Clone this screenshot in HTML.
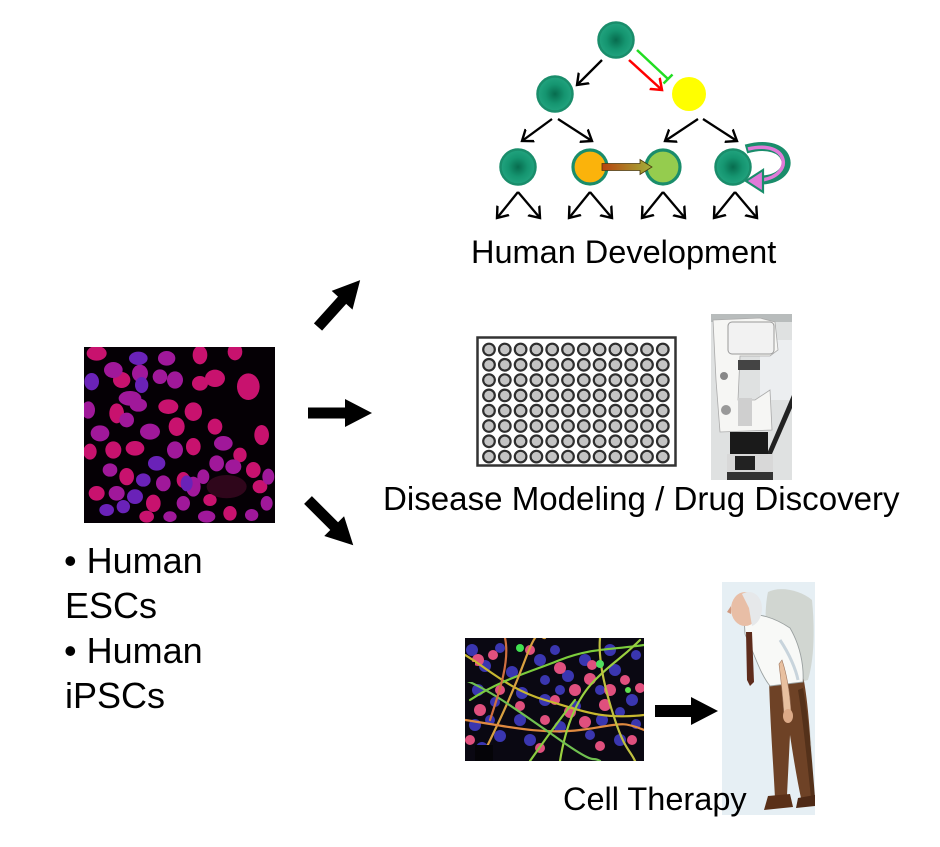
<!DOCTYPE html>
<html><head><meta charset="utf-8"><style>
html,body{margin:0;padding:0;background:#fff;}
svg{display:block;}
text{font-family:"Liberation Sans",Arial,sans-serif;fill:#000;}
</style></head><body>
<svg width="940" height="847" viewBox="0 0 940 847" xmlns="http://www.w3.org/2000/svg">
<defs>
<radialGradient id="teal" cx="50%" cy="50%" r="50%">
<stop offset="0" stop-color="#076c4e"/><stop offset="0.55" stop-color="#159570"/><stop offset="1" stop-color="#22a47f"/>
</radialGradient>
<linearGradient id="og" x1="0" x2="1" y1="0" y2="0">
<stop offset="0" stop-color="#b8440e"/><stop offset="1" stop-color="#a3b03a"/>
</linearGradient>
<marker id="ah" markerUnits="userSpaceOnUse" markerWidth="20" markerHeight="20" refX="10" refY="10" orient="auto" viewBox="0 0 20 20">
<path d="M0,2.5 L10,10 L0,17.5" fill="none" stroke="#000" stroke-width="2.4"/>
</marker>
<marker id="ahr" markerUnits="userSpaceOnUse" markerWidth="20" markerHeight="20" refX="10" refY="10" orient="auto" viewBox="0 0 20 20">
<path d="M0,2.5 L10,10 L0,17.5" fill="none" stroke="#ff0000" stroke-width="2.5"/>
</marker>
<clipPath id="c1"><rect x="84" y="347" width="191" height="176"/></clipPath>
<clipPath id="c2"><rect x="465" y="638" width="179" height="123"/></clipPath>
<clipPath id="c3"><rect x="711" y="314" width="81" height="166"/></clipPath>
<clipPath id="c4"><rect x="722" y="582" width="93" height="233"/></clipPath>
</defs>

<!-- ===== Tree ===== -->
<g fill="none" stroke="#000" stroke-width="2.3" marker-end="url(#ah)">
<line x1="602" y1="60" x2="577" y2="85"/>
<line x1="552" y1="119" x2="522" y2="141"/>
<line x1="558" y1="119" x2="592" y2="141"/>
<line x1="698" y1="119" x2="665" y2="141"/>
<line x1="703" y1="119" x2="737" y2="141"/>
<line x1="518" y1="192" x2="497" y2="218"/><line x1="518" y1="192" x2="540" y2="218"/>
<line x1="590" y1="192" x2="569" y2="218"/><line x1="590" y1="192" x2="612" y2="218"/>
<line x1="663" y1="192" x2="642" y2="218"/><line x1="663" y1="192" x2="685" y2="218"/>
<line x1="735" y1="192" x2="714" y2="218"/><line x1="735" y1="192" x2="757" y2="218"/>
</g>
<line x1="629" y1="60" x2="662" y2="90" stroke="#ff0000" stroke-width="2.5" marker-end="url(#ahr)"/>
<line x1="637" y1="50" x2="668" y2="79" stroke="#22dd22" stroke-width="2.5"/>
<line x1="663.5" y1="83.5" x2="672.5" y2="74.5" stroke="#22dd22" stroke-width="2.5"/>

<g stroke="#1a8d6b" stroke-width="2.5">
<circle cx="616" cy="40" r="17.5" fill="url(#teal)"/>
<circle cx="555" cy="94" r="17.5" fill="url(#teal)"/>
<circle cx="518" cy="167" r="17.5" fill="url(#teal)"/>
<circle cx="733" cy="167" r="17.5" fill="url(#teal)"/>
<circle cx="590" cy="167" r="17" fill="#fbb30b" stroke-width="3.2"/>
<circle cx="663" cy="167" r="17" fill="#95cc4e" stroke-width="3.2"/>
</g>
<circle cx="689" cy="94" r="17" fill="#ffff00"/>

<!-- orange to green arrow -->
<path d="M602,163.5 L640,163.5 L640,159.5 L652,167 L640,174.5 L640,170.5 L602,170.5 Z" fill="url(#og)" stroke="#4a3a10" stroke-width="0.8"/>

<!-- circular arrow -->
<path d="M746,149 C792,136 800,178 762,180" fill="none" stroke="#1a8d6b" stroke-width="9"/>
<path d="M748,149 C789,139 795,175 762,180" fill="none" stroke="#e07ad8" stroke-width="3.5"/>
<path d="M746,181 L763,170 L763,192 Z" fill="#e07ad8" stroke="#1a8d6b" stroke-width="2.2"/>

<text x="471" y="263" font-size="32.5">Human Development</text>

<!-- ===== Left cell image ===== -->
<rect x="84" y="347" width="191" height="176" fill="#050005"/>
<g clip-path="url(#c1)">
<g transform="translate(60,270) scale(0.3333)">
<g fill="#c8126e">
<ellipse cx="110" cy="250" rx="30" ry="22"/><ellipse cx="420" cy="255" rx="22" ry="28"/><ellipse cx="525" cy="245" rx="22" ry="26"/>
<ellipse cx="465" cy="325" rx="30" ry="26"/><ellipse cx="420" cy="340" rx="24" ry="22"/><ellipse cx="565" cy="350" rx="34" ry="40"/>
<ellipse cx="185" cy="330" rx="26" ry="24"/><ellipse cx="400" cy="425" rx="26" ry="28"/><ellipse cx="170" cy="430" rx="22" ry="30"/>
<ellipse cx="325" cy="410" rx="30" ry="22"/><ellipse cx="350" cy="470" rx="24" ry="28"/><ellipse cx="465" cy="470" rx="22" ry="24"/>
<ellipse cx="605" cy="495" rx="22" ry="30"/><ellipse cx="400" cy="530" rx="22" ry="26"/><ellipse cx="540" cy="555" rx="20" ry="22"/>
<ellipse cx="160" cy="540" rx="24" ry="26"/><ellipse cx="225" cy="535" rx="28" ry="22"/><ellipse cx="580" cy="600" rx="22" ry="24"/>
<ellipse cx="200" cy="620" rx="22" ry="26"/><ellipse cx="370" cy="630" rx="20" ry="24"/><ellipse cx="110" cy="670" rx="24" ry="22"/>
<ellipse cx="280" cy="700" rx="22" ry="26"/><ellipse cx="600" cy="650" rx="22" ry="20"/><ellipse cx="260" cy="740" rx="22" ry="18"/>
<ellipse cx="510" cy="730" rx="20" ry="22"/><ellipse cx="90" cy="545" rx="20" ry="24"/><ellipse cx="450" cy="690" rx="20" ry="18"/>
</g>
<g fill="#a0189a">
<ellipse cx="320" cy="265" rx="26" ry="22"/><ellipse cx="160" cy="300" rx="28" ry="24"/><ellipse cx="240" cy="310" rx="24" ry="26"/>
<ellipse cx="300" cy="320" rx="22" ry="22"/><ellipse cx="345" cy="330" rx="24" ry="26"/><ellipse cx="210" cy="385" rx="34" ry="22"/>
<ellipse cx="235" cy="405" rx="26" ry="20"/><ellipse cx="85" cy="420" rx="20" ry="26"/><ellipse cx="120" cy="490" rx="28" ry="24"/>
<ellipse cx="200" cy="450" rx="22" ry="22"/><ellipse cx="270" cy="485" rx="30" ry="24"/><ellipse cx="490" cy="520" rx="28" ry="22"/>
<ellipse cx="345" cy="540" rx="24" ry="26"/><ellipse cx="470" cy="580" rx="22" ry="24"/><ellipse cx="520" cy="590" rx="24" ry="22"/>
<ellipse cx="625" cy="620" rx="18" ry="24"/><ellipse cx="150" cy="600" rx="22" ry="20"/><ellipse cx="310" cy="640" rx="22" ry="24"/>
<ellipse cx="400" cy="650" rx="22" ry="30"/><ellipse cx="430" cy="620" rx="18" ry="22"/><ellipse cx="170" cy="670" rx="24" ry="22"/>
<ellipse cx="370" cy="700" rx="20" ry="22"/><ellipse cx="620" cy="700" rx="18" ry="22"/><ellipse cx="440" cy="740" rx="26" ry="18"/>
<ellipse cx="575" cy="735" rx="20" ry="18"/><ellipse cx="330" cy="740" rx="20" ry="16"/>
</g>
<g fill="#6a22b8">
<ellipse cx="235" cy="265" rx="28" ry="20"/><ellipse cx="95" cy="335" rx="22" ry="26"/><ellipse cx="245" cy="345" rx="20" ry="24"/>
<ellipse cx="290" cy="580" rx="26" ry="22"/><ellipse cx="250" cy="630" rx="22" ry="20"/><ellipse cx="225" cy="680" rx="24" ry="22"/>
<ellipse cx="140" cy="720" rx="22" ry="18"/><ellipse cx="190" cy="710" rx="20" ry="20"/><ellipse cx="380" cy="640" rx="18" ry="24"/>
</g>
<ellipse cx="500" cy="650" rx="60" ry="35" fill="#3a0820" opacity="0.8"/>
</g>
</g>

<!-- big arrows -->
<g fill="#000">
<path transform="translate(318,327) rotate(-48)" d="M0,-5.5 L36,-5.5 L36,-14 L63,0 L36,14 L36,5.5 L0,5.5 Z"/>
<path transform="translate(308,413)" d="M0,-5.5 L37,-5.5 L37,-14 L64,0 L37,14 L37,5.5 L0,5.5 Z"/>
<path transform="translate(308,500) rotate(45)" d="M0,-5.5 L37,-5.5 L37,-14 L64,0 L37,14 L37,5.5 L0,5.5 Z"/>
<path transform="translate(655,711)" d="M0,-6 L36,-6 L36,-14 L63,0 L36,14 L36,6 L0,6 Z"/>
</g>

<!-- left text -->
<g font-size="36">
<text x="64" y="573">• Human</text>
<text x="65" y="618">ESCs</text>
<text x="64" y="663">• Human</text>
<text x="65" y="708">iPSCs</text>
</g>

<!-- ===== Well plate ===== -->
<rect x="477.5" y="337.5" width="198" height="128" fill="#fff" stroke="#333" stroke-width="2.5"/>
<g fill="#c4c4c4" stroke="#2e2e2e" stroke-width="2.2" id="wells"></g>

<!-- ===== Robot photo ===== -->
<g clip-path="url(#c3)">
<rect x="711" y="314" width="81" height="166" fill="#dfe1e1"/>
<rect x="711" y="314" width="81" height="8" fill="#b8bcbc"/>
<rect x="760" y="340" width="32" height="60" fill="#eceef0"/>
<path d="M792,395 L760,470 L765,470 L792,408 Z" fill="#222"/>
<path d="M713,320 L760,318 L775,322 L778,350 L770,356 L740,356 L738,400 L755,400 L770,390 L772,430 L720,432 L716,380 Z" fill="#f6f6f4" stroke="#aaa" stroke-width="0.8"/>
<rect x="728" y="322" width="46" height="32" rx="4" fill="#f2f2f2" stroke="#999" stroke-width="1"/>
<rect x="738" y="360" width="22" height="10" fill="#444"/>
<circle cx="724" cy="376" r="4" fill="#888"/>
<circle cx="726" cy="410" r="5" fill="#999"/>
<rect x="738" y="398" width="14" height="28" fill="#cfcfcf"/>
<rect x="730" y="432" width="38" height="22" fill="#1a1a1a"/>
<rect x="727" y="454" width="46" height="18" fill="#d8d8d8"/>
<rect x="735" y="456" width="20" height="14" fill="#222"/>
<rect x="727" y="472" width="46" height="8" fill="#333"/>
</g>

<text x="383" y="510" font-size="33.1">Disease Modeling / Drug Discovery</text>

<!-- ===== Neuron image ===== -->
<rect x="465" y="638" width="179" height="123" fill="#0a0812"/>
<g clip-path="url(#c2)">
<g fill="#3a36b0">
<circle cx="472" cy="650" r="6"/><circle cx="485" cy="666" r="6"/><circle cx="500" cy="648" r="5"/><circle cx="512" cy="672" r="6"/>
<circle cx="478" cy="690" r="6"/><circle cx="495" cy="702" r="5"/><circle cx="522" cy="693" r="6"/><circle cx="540" cy="660" r="6"/>
<circle cx="555" cy="650" r="5"/><circle cx="568" cy="676" r="6"/><circle cx="585" cy="660" r="6"/><circle cx="600" cy="690" r="5"/>
<circle cx="615" cy="670" r="6"/><circle cx="632" cy="700" r="6"/><circle cx="620" cy="740" r="6"/><circle cx="590" cy="735" r="5"/>
<circle cx="560" cy="727" r="6"/><circle cx="530" cy="740" r="6"/><circle cx="500" cy="736" r="6"/><circle cx="475" cy="725" r="6"/>
<circle cx="545" cy="700" r="6"/><circle cx="576" cy="706" r="5"/><circle cx="610" cy="650" r="6"/><circle cx="636" cy="655" r="5"/>
<circle cx="490" cy="720" r="5"/><circle cx="520" cy="720" r="6"/><circle cx="560" cy="690" r="5"/><circle cx="602" cy="720" r="6"/>
<circle cx="636" cy="724" r="5"/><circle cx="482" cy="748" r="6"/><circle cx="545" cy="680" r="5"/><circle cx="620" cy="712" r="5"/>
</g>
<g fill="#e0507e">
<circle cx="478" cy="660" r="6"/><circle cx="493" cy="655" r="5"/><circle cx="530" cy="650" r="5"/><circle cx="560" cy="668" r="6"/>
<circle cx="575" cy="690" r="6"/><circle cx="590" cy="679" r="6"/><circle cx="610" cy="690" r="6"/><circle cx="625" cy="680" r="5"/>
<circle cx="570" cy="712" r="6"/><circle cx="545" cy="720" r="5"/><circle cx="520" cy="706" r="5"/><circle cx="500" cy="690" r="5"/>
<circle cx="480" cy="710" r="6"/><circle cx="470" cy="740" r="5"/><circle cx="540" cy="748" r="5"/><circle cx="600" cy="746" r="5"/>
<circle cx="632" cy="740" r="5"/><circle cx="585" cy="722" r="6"/><circle cx="555" cy="700" r="5"/><circle cx="605" cy="705" r="6"/>
<circle cx="592" cy="665" r="5"/><circle cx="640" cy="688" r="5"/>
</g>
<g fill="none" stroke-width="2.2" stroke-linecap="round">
<path d="M465,655 C490,670 510,690 545,700 S600,720 644,715" stroke="#c8b830"/>
<path d="M470,700 C500,680 530,672 560,660 S610,650 644,645" stroke="#7ccc3c"/>
<path d="M480,761 C495,730 510,700 525,660 S540,640 545,638" stroke="#d8a040"/>
<path d="M465,720 C500,725 540,735 580,730 S620,720 644,730" stroke="#e08a40"/>
<path d="M560,761 C565,730 575,700 595,680 S620,660 640,640" stroke="#9ad040"/>
<path d="M465,680 C490,690 520,712 560,740 S590,755 600,761" stroke="#70c050"/>
<path d="M600,638 C598,660 605,690 615,720 S630,750 635,761" stroke="#c0c040"/>
<path d="M505,638 C510,660 500,690 490,720" stroke="#d07040"/>
<path d="M530,761 C545,740 555,725 575,700" stroke="#8acc40"/>
</g>
<circle cx="520" cy="648" r="4" fill="#40e050"/><circle cx="600" cy="664" r="4" fill="#50e060"/><circle cx="628" cy="690" r="3" fill="#60e050"/>
<rect x="475" y="745" width="18" height="16" fill="#050408"/><rect x="465" y="662" width="10" height="20" fill="#0a0812"/>
</g>

<!-- ===== Man image ===== -->
<g clip-path="url(#c4)">
<rect x="722" y="582" width="93" height="233" fill="#e6eff4"/>
<!-- gray wash -->
<path d="M768,592 C780,586 800,590 812,600 C815,630 814,660 808,680 C795,684 780,680 770,670 C765,640 764,610 768,592 Z" fill="#c9cec6" opacity="0.75"/>
<path d="M805,700 C812,730 814,770 812,800 L806,800 C808,770 806,730 803,700 Z" fill="#c0c8c4" opacity="0.5"/>
<!-- trousers -->
<path d="M769,678 L803,676 C808,700 811,740 812,780 L814,800 L802,803 C797,780 793,755 790,735 L787,795 L775,798 C773,760 770,720 769,678 Z" fill="#6e4226"/>
<path d="M798,690 C803,720 807,760 811,798 L815,798 C812,760 809,720 803,688 Z" fill="#54311a"/>
<!-- shoes -->
<path d="M768,796 L790,794 L793,807 L764,810 Z" fill="#5a3018"/>
<path d="M798,798 L815,795 L815,806 L796,808 Z" fill="#4e2a16"/>
<!-- shirt -->
<path d="M744,616 C758,612 775,618 790,628 C800,645 804,665 803,682 L770,686 C762,676 757,662 752,650 L745,634 Z" fill="#f8f9f7" stroke="#9aa0a0" stroke-width="0.9"/>
<path d="M780,640 C790,655 796,670 798,680" fill="none" stroke="#c8d4dc" stroke-width="3"/>
<!-- arm -->
<path d="M782,660 C787,675 790,695 791,712 L784,714 C783,700 781,680 779,664 Z" fill="#e8c0a0" stroke="#a07860" stroke-width="0.6"/>
<ellipse cx="788" cy="716" rx="5" ry="7" fill="#dcaa88"/>
<!-- tie -->
<path d="M746,632 L752,632 L754,682 L750,686 L747,680 Z" fill="#5e2c1c"/>
<!-- head -->
<ellipse cx="745" cy="609" rx="14" ry="17" fill="#e8bea6"/>
<path d="M742,594 C752,588 762,596 762,608 C762,618 757,624 752,626 L749,608 Z" fill="#e6e8ea"/>
<path d="M731,606 L727,612 L731,614 Z" fill="#d09a80"/>
</g>

<text x="563" y="810" font-size="32.5">Cell Therapy</text>
</svg>
<script>
(function(){
var g=document.getElementById('wells');var ns='http://www.w3.org/2000/svg';
for(var j=0;j<8;j++){for(var i=0;i<12;i++){var c=document.createElementNS(ns,'circle');
c.setAttribute('cx',(489+i*15.8).toFixed(1));c.setAttribute('cy',(349.5+j*15.3).toFixed(1));c.setAttribute('r','5.8');g.appendChild(c);}}
})();
</script>
</body></html>
